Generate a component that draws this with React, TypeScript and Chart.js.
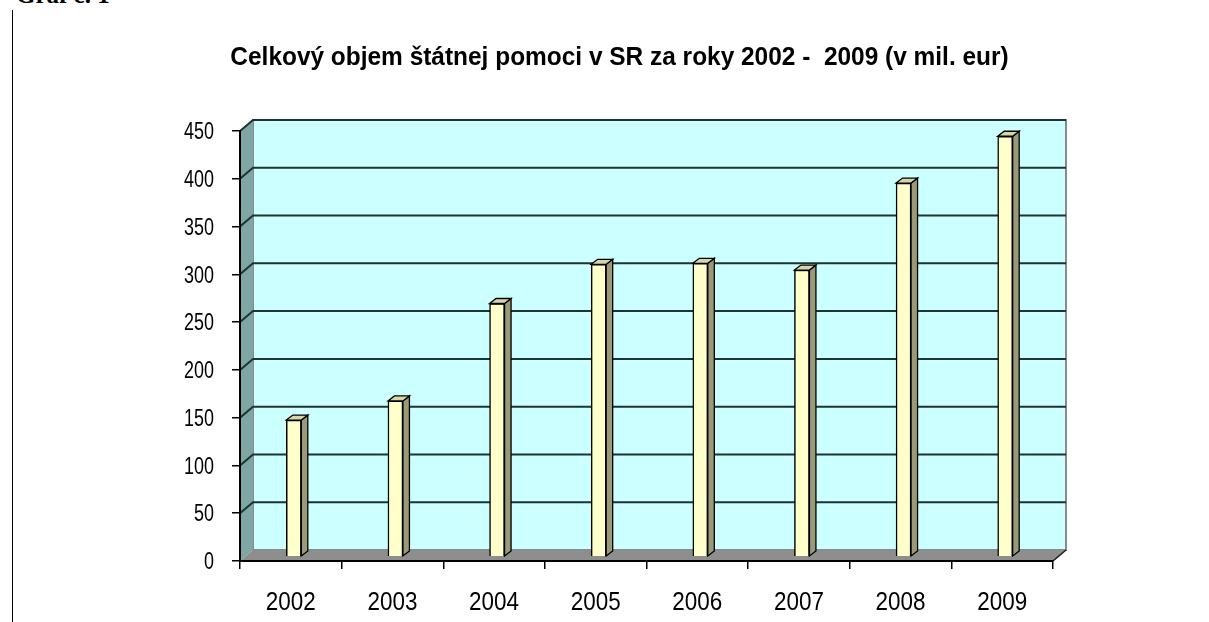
import React, { useEffect, useRef } from "react";
import { Chart, registerables } from "chart.js";

Chart.register(...registerables);

// ---- data ----
const categories: string[] = ["2002", "2003", "2004", "2005", "2006", "2007", "2008", "2009"];
const aidValues: number[] = [143, 163, 265, 306, 307, 300, 391, 440];
const yTickValues: number[] = [0, 50, 100, 150, 200, 250, 300, 350, 400, 450];
const chartTitle = "Celkový objem štátnej pomoci v SR za roky 2002 -  2009 (v mil. eur)";
const captionText = "Graf č. 1";

// ---- style constants ----
const FONT = "'Liberation Sans', Arial, sans-serif";
const DEPTH_X = 13;
const DEPTH_Y = 11;
const BAR_SHIFT_X = 3;
const BAR_SHIFT_Y = 4.3;
const BAR_DEPTH_X = 6.5;
const BAR_DEPTH_Y = 5;

function drawSqueezed(
  ctx: CanvasRenderingContext2D,
  text: string,
  x: number,
  y: number,
  font: string,
  sx: number,
  align: CanvasTextAlign
) {
  ctx.save();
  ctx.translate(x, y);
  ctx.scale(sx, 1);
  ctx.font = font;
  ctx.fillStyle = "#000";
  ctx.textAlign = align;
  ctx.textBaseline = "alphabetic";
  ctx.fillText(text, 0, 0);
  ctx.restore();
}

const wallPlugin = {
  id: "wall3d",
  beforeDraw(chart: any) {
    const { ctx, chartArea, scales } = chart;
    const ys = scales.y;
    const L = chartArea.left;
    const R = chartArea.right;
    const T = ys.getPixelForValue(yTickValues[yTickValues.length - 1]);
    const B = ys.getPixelForValue(0);
    ctx.save();
    // back wall
    ctx.fillStyle = "#ccffff";
    ctx.fillRect(L + DEPTH_X, T - DEPTH_Y, R - L, B - T);
    ctx.strokeStyle = "#8a8a8a";
    ctx.lineWidth = 2;
    ctx.strokeRect(L + DEPTH_X, T - DEPTH_Y, R - L, B - T);
    // side wall
    ctx.fillStyle = "#7fa5a5";
    ctx.beginPath();
    ctx.moveTo(L, T);
    ctx.lineTo(L + DEPTH_X, T - DEPTH_Y);
    ctx.lineTo(L + DEPTH_X, B - DEPTH_Y);
    ctx.lineTo(L, B);
    ctx.closePath();
    ctx.fill();
    // floor
    ctx.fillStyle = "#8e8e8e";
    ctx.beginPath();
    ctx.moveTo(L, B);
    ctx.lineTo(L + DEPTH_X, B - DEPTH_Y);
    ctx.lineTo(R + DEPTH_X, B - DEPTH_Y);
    ctx.lineTo(R, B);
    ctx.closePath();
    ctx.fill();
    ctx.strokeStyle = "#1a1a1a";
    ctx.lineWidth = 1.5;
    ctx.beginPath();
    ctx.moveTo(R, B);
    ctx.lineTo(R + DEPTH_X, B - DEPTH_Y);
    ctx.stroke();
    // gridlines on side wall and back wall
    ctx.strokeStyle = "#1e3434";
    ctx.lineWidth = 2;
    for (const v of yTickValues) {
      if (v === 0) continue;
      const y = ys.getPixelForValue(v);
      ctx.beginPath();
      ctx.moveTo(L, y);
      ctx.lineTo(L + DEPTH_X, y - DEPTH_Y);
      ctx.lineTo(R + DEPTH_X, y - DEPTH_Y);
      ctx.stroke();
    }
    ctx.restore();
  },
  beforeDatasetsDraw(chart: any) {
    chart.ctx.save();
    chart.ctx.translate(BAR_SHIFT_X, -BAR_SHIFT_Y);
  },
  afterDatasetsDraw(chart: any) {
    const ctx = chart.ctx;
    const meta = chart.getDatasetMeta(0);
    for (const el of meta.data as any[]) {
      const p = el.getProps(["x", "y", "base", "width"], true);
      const l = p.x - p.width / 2;
      const r = p.x + p.width / 2;
      const t = p.y;
      const b = p.base;
      ctx.strokeStyle = "#000";
      ctx.lineWidth = 1.3;
      // side face
      ctx.fillStyle = "#9a9a78";
      ctx.beginPath();
      ctx.moveTo(r, t);
      ctx.lineTo(r + BAR_DEPTH_X, t - BAR_DEPTH_Y);
      ctx.lineTo(r + BAR_DEPTH_X, b - BAR_DEPTH_Y);
      ctx.lineTo(r, b);
      ctx.closePath();
      ctx.fill();
      ctx.stroke();
      // top face
      ctx.fillStyle = "#d6d6a8";
      ctx.beginPath();
      ctx.moveTo(l, t);
      ctx.lineTo(l + BAR_DEPTH_X, t - BAR_DEPTH_Y);
      ctx.lineTo(r + BAR_DEPTH_X, t - BAR_DEPTH_Y);
      ctx.lineTo(r, t);
      ctx.closePath();
      ctx.fill();
      ctx.stroke();
    }
    ctx.restore();
  },
  afterDraw(chart: any) {
    const { ctx, chartArea, scales } = chart;
    // title (horizontally condensed, like the original)
    drawSqueezed(ctx, chartTitle, 619.5, 65, `bold 26px ${FONT}`, 0.94, "center");
    // y tick labels
    const ys = scales.y;
    ys.ticks.forEach((t: any, i: number) => {
      const y = ys.getPixelForTick(i);
      drawSqueezed(ctx, String(t.value), chartArea.left - 26, y + 8.2, `23px ${FONT}`, 0.78, "right");
    });
    // x tick labels
    const xs = scales.x;
    xs.ticks.forEach((t: any, i: number) => {
      const x = xs.getPixelForTick(i);
      drawSqueezed(ctx, xs.getLabelForValue(t.value), x, chartArea.bottom + 49, `25.5px ${FONT}`, 0.88, "center");
    });
  },
};

export default function App() {
  const canvasRef = useRef<HTMLCanvasElement | null>(null);

  useEffect(() => {
    if (!canvasRef.current) return;
    const chart = new Chart(canvasRef.current, {
      type: "bar",
      data: {
        labels: categories,
        datasets: [
          {
            data: aidValues,
            backgroundColor: "#ffffcc",
            borderColor: "#000000",
            borderWidth: 1.5,
            barThickness: 15,
          },
        ],
      },
      options: {
        animation: false,
        responsive: true,
        maintainAspectRatio: false,
        layout: { padding: { left: 0, right: 156, top: 131, bottom: 0 } },
        plugins: {
          legend: { display: false },
          tooltip: { enabled: false },
          title: { display: false },
        },
        scales: {
          x: {
            offset: true,
            grid: {
              offset: true,
              drawOnChartArea: false,
              drawTicks: true,
              tickLength: 8,
              color: "#000",
              lineWidth: 1.5,
            },
            border: { display: true, color: "#000", width: 2 },
            ticks: { display: false },
            afterFit: (s: any) => {
              s.height = 61;
            },
          },
          y: {
            min: 0,
            max: 450,
            afterBuildTicks: (s: any) => {
              s.ticks = yTickValues.map((v) => ({ value: v }));
            },
            grid: {
              drawOnChartArea: false,
              drawTicks: true,
              tickLength: 8,
              color: "#000",
              lineWidth: 1.5,
            },
            border: { display: true, color: "#000", width: 2 },
            ticks: { display: false },
            afterFit: (s: any) => {
              s.width = 240;
            },
          },
        },
      },
      plugins: [wallPlugin],
    });
    return () => chart.destroy();
  }, []);

  return (
    <div style={{ position: "fixed", left: 0, top: 0, width: 1209, height: 622, background: "#fff", overflow: "hidden" }}>
      <div
        style={{
          position: "absolute",
          left: 16,
          top: -17,
          font: "bold 25px 'Liberation Serif', 'Times New Roman', serif",
          lineHeight: "24px",
          whiteSpace: "nowrap",
          color: "#000",
        }}
      >
        {captionText}
      </div>
      <div style={{ position: "absolute", left: 12, top: 10, width: 0, height: 612, borderLeft: "1.3px solid #000" }} />
      <div style={{ position: "absolute", left: 0, top: 0, width: 1209, height: 622 }}>
        <canvas ref={canvasRef} />
      </div>
    </div>
  );
}
